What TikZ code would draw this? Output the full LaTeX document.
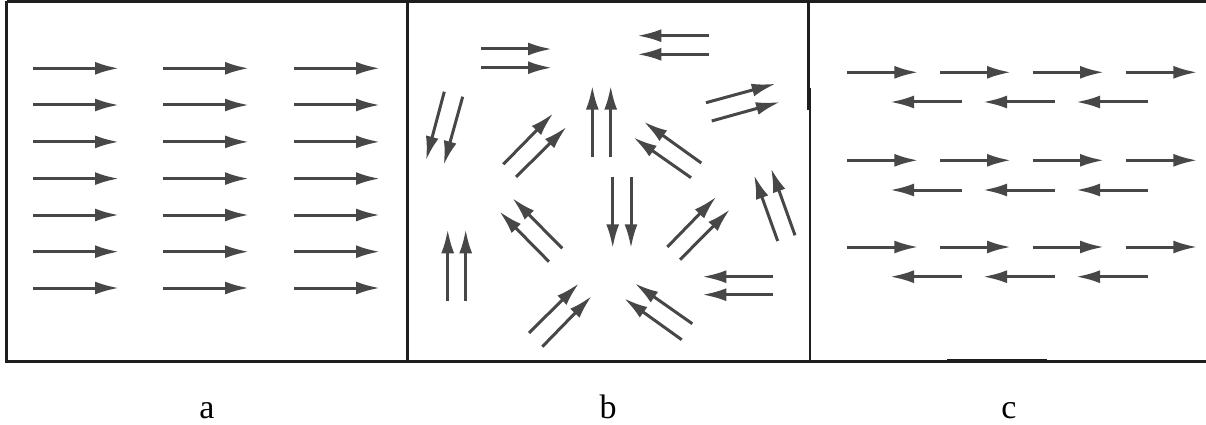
\documentclass[tikz,border=0pt]{standalone}
\usepackage{fontspec}
\setmainfont{Liberation Serif}
\usepackage{tikz}
\usetikzlibrary{arrows.meta}
\definecolor{spingray}{HTML}{474747}
\definecolor{framegray}{HTML}{1E1E1E}
\begin{document}
\begin{tikzpicture}[x=1pt, y=-1pt, frame/.style={draw=framegray, line width=2.7pt}, spin/.style={draw=spingray, line width=3pt, -{Latex[length=24pt, width=13pt]}}, lbl/.style={anchor=base, font=\fontsize{34}{40}\selectfont}]
\useasboundingbox (0,0) rectangle (1206,425);
\draw[frame] (6.8,1.3) -- (1206,1.3);
\draw[frame] (6.8,1.3) -- (6.8,361.7) -- (1206,361.7);
\draw[frame] (407.7,1.3) -- (407.7,361.7);
\draw[frame] (808.5,1.3) -- (808.5,110);
\draw[frame] (810,88) -- (810,361.7);
\draw[frame, line width=4pt] (947,361.4) -- (1047,361.4);
% a
\draw[spin] (33,68.3) -- (119,68.3);
\draw[spin] (163,68.3) -- (249,68.3);
\draw[spin] (294,68.3) -- (380,68.3);
\draw[spin] (33,105) -- (119,105);
\draw[spin] (163,105) -- (249,105);
\draw[spin] (294,105) -- (380,105);
\draw[spin] (33,141.9) -- (119,141.9);
\draw[spin] (163,141.9) -- (249,141.9);
\draw[spin] (294,141.9) -- (380,141.9);
\draw[spin] (33,178.6) -- (119,178.6);
\draw[spin] (163,178.6) -- (249,178.6);
\draw[spin] (294,178.6) -- (380,178.6);
\draw[spin] (33,215) -- (119,215);
\draw[spin] (163,215) -- (249,215);
\draw[spin] (294,215) -- (380,215);
\draw[spin] (33,251.7) -- (119,251.7);
\draw[spin] (163,251.7) -- (249,251.7);
\draw[spin] (294,251.7) -- (380,251.7);
\draw[spin] (33,288) -- (119,288);
\draw[spin] (163,288) -- (249,288);
\draw[spin] (294,288) -- (380,288);
% b
\draw[spin] (481,49) -- (552,49);
\draw[spin] (481,67.7) -- (552,67.7);
\draw[spin] (709,35.7) -- (637.3,35.7);
\draw[spin] (709,54.3) -- (637.3,54.3);
\draw[spin] (444.3,91.7) -- (426,160.3);
\draw[spin] (462.7,96.7) -- (443.7,165);
\draw[spin] (592.3,157) -- (592.3,85.7);
\draw[spin] (610.7,157) -- (610.7,85.7);
\draw[spin] (503.3,164.3) -- (553.3,113.3);
\draw[spin] (516,177) -- (566.7,126.7);
\draw[spin] (701.3,163) -- (643.7,121.7);
\draw[spin] (691,177.7) -- (633.3,137.3);
\draw[spin] (706,102.7) -- (775.7,83.7);
\draw[spin] (711.7,121) -- (780,102);
\draw[spin] (612.7,177) -- (612.7,248.3);
\draw[spin] (631,177) -- (631,248.3);
\draw[spin] (562.3,248.3) -- (512.3,198);
\draw[spin] (549,261.7) -- (499.3,211.3);
\draw[spin] (447.7,301) -- (447.7,229.3);
\draw[spin] (465.7,301) -- (465.7,229.3);
\draw[spin] (667.3,247) -- (716.3,196.7);
\draw[spin] (680,259.7) -- (730,209.3);
\draw[spin] (777.7,241) -- (754,175);
\draw[spin] (795,235.3) -- (771,168.3);
\draw[spin] (773.3,276.7) -- (702.3,276.7);
\draw[spin] (773.3,294.7) -- (702.3,294.7);
\draw[spin] (529,333) -- (579,283.3);
\draw[spin] (542.3,346.7) -- (591.7,296);
\draw[spin] (692.3,323.7) -- (634.7,283.3);
\draw[spin] (681.7,339.7) -- (624,298.3);
% c
\draw[spin] (847,72.3) -- (918.3,72.3);
\draw[spin] (940,72.3) -- (1011,72.3);
\draw[spin] (1032.7,72.3) -- (1104,72.3);
\draw[spin] (1125.7,72.3) -- (1197.3,72.3);
\draw[spin] (961.7,102) -- (890,102);
\draw[spin] (1054.7,102) -- (983,102);
\draw[spin] (1147.7,102) -- (1076,102);
\draw[spin] (847,160.3) -- (918.3,160.3);
\draw[spin] (940,160.3) -- (1011,160.3);
\draw[spin] (1032.7,160.3) -- (1104,160.3);
\draw[spin] (1125.7,160.3) -- (1197.3,160.3);
\draw[spin] (961.7,190) -- (890,190);
\draw[spin] (1054.7,190) -- (983,190);
\draw[spin] (1147.7,190) -- (1076,190);
\draw[spin] (847,247) -- (918.3,247);
\draw[spin] (940,247) -- (1011,247);
\draw[spin] (1032.7,247) -- (1104,247);
\draw[spin] (1125.7,247) -- (1197.3,247);
\draw[spin] (961.7,276.7) -- (890,276.7);
\draw[spin] (1054.7,276.7) -- (983,276.7);
\draw[spin] (1147.7,276.7) -- (1076,276.7);
\node[lbl] (la) at (207,418) {a};
\node[lbl] (lb) at (608,418) {b};
\node[lbl] (lc) at (1009,418) {c};
\end{tikzpicture}
\end{document}
